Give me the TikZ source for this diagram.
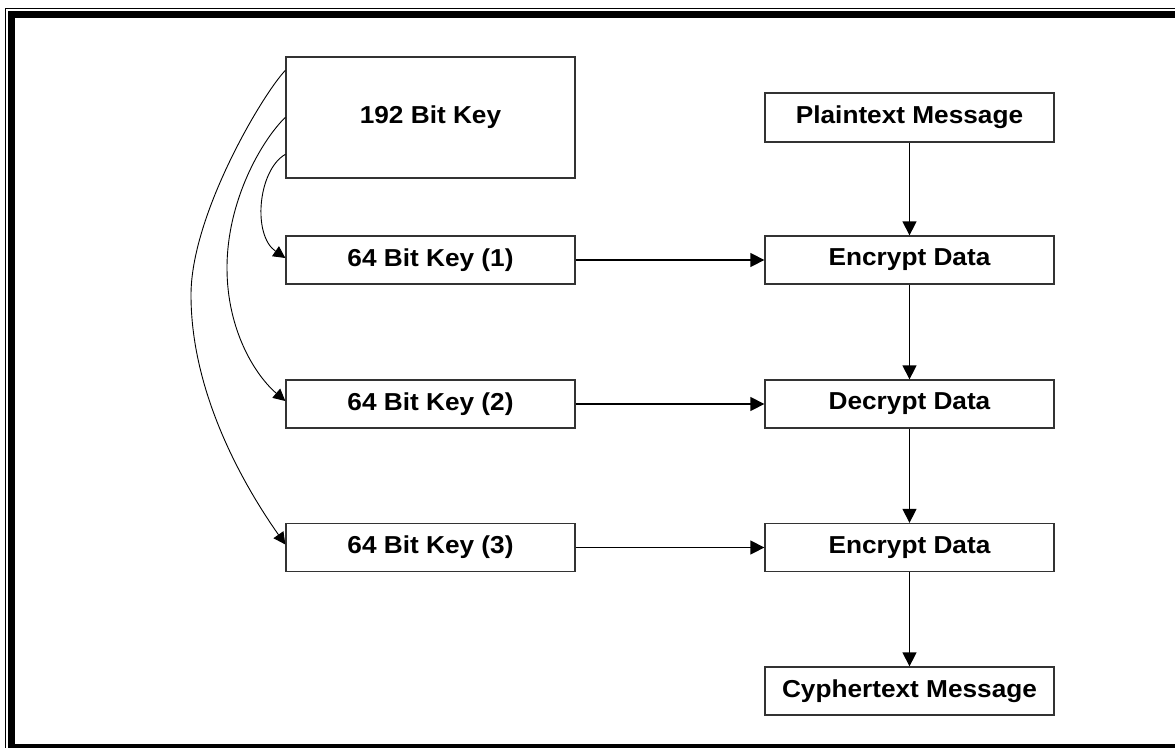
\documentclass[tikz,border=0pt]{standalone}
\usepackage{fontspec}
\newfontfamily\boxfont{Liberation Sans}[FakeStretch=1.07]
\usetikzlibrary{arrows.meta}

\begin{document}
\begin{tikzpicture}[x=1pt,y=-1pt,
  box/.style={draw=black!80, line width=1.3pt, fill=white,
    minimum width=289pt, minimum height=48pt, inner sep=0pt,
    font=\boxfont\bfseries\fontsize{24.5}{28}\selectfont},
  flow/.style={line width=1.3pt, -{Triangle[length=14pt,width=14pt]}},
  keyarc/.style={line width=0.9pt, -{Triangle[length=12pt,width=12pt]}},
]
\useasboundingbox (0,0) rectangle (1175,747);
\clip (0,0) rectangle (1175,747);
\fill[white] (0,0) rectangle (1175,747);

% page frame: thin outer rule and heavy inner rule
\draw[line width=1.5pt] (5.5,8.3) rectangle (1200,770);
\draw[line width=7.5pt] (11.5,14.5) rectangle (1200,747.75);

% key schedule column
\node[box, minimum height=121pt] (master) at (430.5,117.5) {192 Bit Key};
\node[box] (k1) at (430.5,260) {64 Bit Key (1)};
\node[box] (k2) at (430.5,404) {64 Bit Key (2)};
\node[box] (k3) at (430.5,547.5) {64 Bit Key (3)};

% data column
\node[box, minimum height=49pt] (plain) at (909.5,117.5) {Plaintext Message};
\node[box] (e1) at (909.5,260) {Encrypt Data};
\node[box] (d2) at (909.5,404) {Decrypt Data};
\node[box] (e3) at (909.5,547.5) {Encrypt Data};
\node[box] (cipher) at (909.5,691) {Cyphertext Message};

% data flow
\draw[flow] (plain) -- (e1);
\draw[flow] (e1) -- (d2);
\draw[flow] (d2) -- (e3);
\draw[flow] (e3) -- (cipher);

% keys feeding each stage
\draw[flow] (k1) -- (e1);
\draw[flow] (k2) -- (d2);
\draw[flow] (k3) -- (e3);

% splitting the 192 bit key into three 64 bit keys
\draw[keyarc] ([yshift=-98pt]master.north west)
  .. controls (258,170) and (252,235) .. ([yshift=2pt]k1.west);
\draw[keyarc] ([yshift=-61pt]master.north west)
  .. controls (262,140) and (227,200) .. (227,268)
  .. controls (227,330) and (255,375) .. ([yshift=3pt]k2.west);
\draw[keyarc] ([yshift=-14pt]master.north west)
  .. controls (262,95) and (191,215) .. (191,295)
  .. controls (191,390) and (240,480) .. ([yshift=3pt]k3.west);
\end{tikzpicture}
\end{document}
